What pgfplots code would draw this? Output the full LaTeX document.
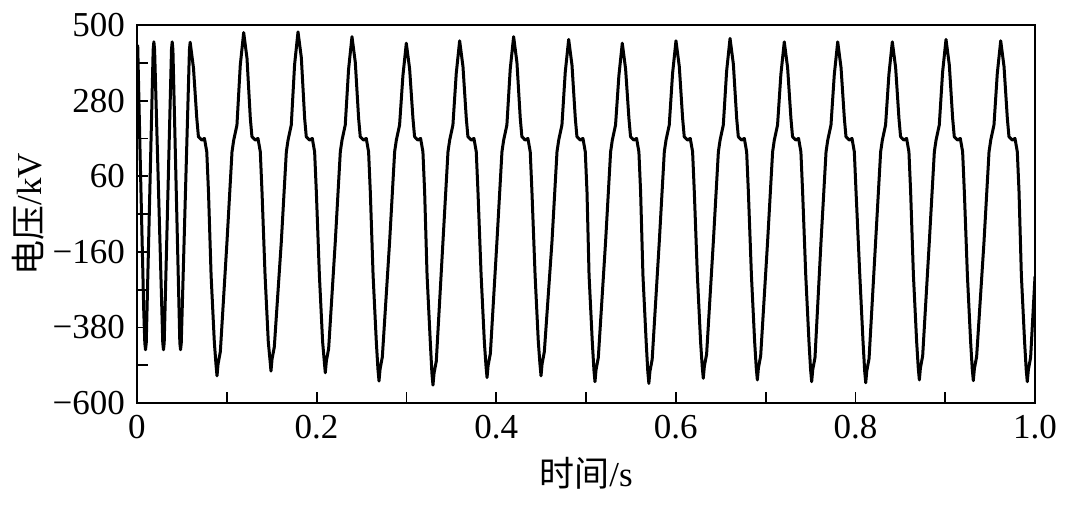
\documentclass[border=0pt]{standalone}
\usepackage{fontspec}
\setmainfont{Liberation Serif}
\newfontfamily\cjk{Noto Sans CJK SC}
\usepackage{pgfplots}
\pgfplotsset{compat=1.18}
\begin{document}
\fontsize{17.5}{21}\selectfont
\begin{tikzpicture}
\path[use as bounding box] (-68.5pt,-52.5pt) rectangle (471.5pt,201.5pt);
\begin{axis}[
 at={(0pt,0pt)}, anchor=south west,
 scale only axis, width=449pt, height=189pt,
 xmin=0, xmax=1, ymin=-600, ymax=500,
 xtick={0,0.2,0.4,0.6,0.8,1}, xticklabels={0,0.2,0.4,0.6,0.8,1.0},
 ytick={-600,-380,-160,60,280,500}, yticklabels={−600,−380,−160,60,280,500},
 minor xtick={0.1,0.3,0.5,0.7,0.9}, minor ytick={-490,-270,-50,170,390},
 tick align=inside, xtick pos=bottom, ytick pos=left,
 major tick length=5.5pt, minor tick length=5.5pt,
 every tick/.style={black, line width=0.9pt},
 axis line style={line width=1pt},
 tick label style={font=\fontsize{17.5}{21}\selectfont},
 label style={font=\fontsize{17.5}{21}\selectfont},
 xlabel={{\cjk 时间}/s}, ylabel={{\cjk 电压}/kV},
 xlabel style={at={(axis description cs:0.5,-0.1852)}, anchor=center},
 ylabel style={at={(axis description cs:-0.1214,0.5)}, anchor=center},
]
\addplot[black, line width=1.5pt, line join=round, mark=none] coordinates {
(0,300) (0.0008,440) (0.0035,120) (0.0075,-330) (0.0087,-425) (0.0095,-445) (0.0103,-425)
(0.0180,428) (0.0188,451) (0.0196,428) (0.0287,-425) (0.0295,-445) (0.0303,-425)
(0.0384,428) (0.0392,451) (0.0400,428) (0.0477,-425) (0.0485,-445) (0.0493,-425)
(0.0584,428) (0.0592,450)
(0.0629,375) (0.0666,228) (0.0684,175) (0.0721,165) (0.0751,170) (0.0777,131) (0.0796,15) (0.0825,-228) (0.0861,-422) (0.0879,-486) (0.0891,-521)
(0.0903,-486) (0.0928,-451) (0.1002,-131) (0.1058,131) (0.1077,165) (0.1113,209) (0.1150,383) (0.1188,478) (0.1225,403) (0.1262,228) (0.1280,175) (0.1317,165) (0.1347,170) (0.1373,131) (0.1392,15) (0.1426,-228) (0.1462,-422) (0.1480,-472) (0.1492,-507)
(0.1504,-472) (0.1529,-437) (0.1607,-131) (0.1663,131) (0.1682,165) (0.1718,209) (0.1755,385) (0.1793,480) (0.1830,405) (0.1867,228) (0.1885,175) (0.1922,165) (0.1952,170) (0.1978,131) (0.1997,15) (0.2031,-228) (0.2067,-422) (0.2085,-477) (0.2097,-512)
(0.2109,-477) (0.2134,-442) (0.2208,-131) (0.2264,131) (0.2283,165) (0.2319,209) (0.2356,371) (0.2394,466) (0.2431,391) (0.2468,228) (0.2486,175) (0.2523,165) (0.2553,170) (0.2579,131) (0.2598,15) (0.2629,-228) (0.2665,-422) (0.2683,-501) (0.2695,-536)
(0.2707,-501) (0.2732,-466) (0.2813,-131) (0.2869,131) (0.2888,165) (0.2924,209) (0.2961,352) (0.2999,447) (0.3036,372) (0.3073,228) (0.3091,175) (0.3128,165) (0.3158,170) (0.3184,131) (0.3203,15) (0.3230,-228) (0.3266,-422) (0.3284,-513) (0.3296,-548)
(0.3308,-513) (0.3333,-478) (0.3407,-131) (0.3463,131) (0.3482,165) (0.3518,209) (0.3555,359) (0.3593,454) (0.3630,379) (0.3667,228) (0.3685,175) (0.3722,165) (0.3752,170) (0.3778,131) (0.3797,15) (0.3832,-228) (0.3868,-422) (0.3886,-491) (0.3898,-526)
(0.3910,-491) (0.3935,-456) (0.4008,-131) (0.4064,131) (0.4083,165) (0.4119,209) (0.4156,371) (0.4194,466) (0.4231,391) (0.4268,228) (0.4286,175) (0.4323,165) (0.4353,170) (0.4379,131) (0.4398,15) (0.4433,-228) (0.4469,-422) (0.4487,-486) (0.4499,-521)
(0.4511,-486) (0.4536,-451) (0.4621,-131) (0.4677,131) (0.4696,165) (0.4732,209) (0.4769,363) (0.4807,458) (0.4844,383) (0.4881,228) (0.4899,175) (0.4936,165) (0.4966,170) (0.4992,131) (0.5011,15) (0.5034,-228) (0.5070,-422) (0.5088,-503) (0.5100,-538)
(0.5112,-503) (0.5137,-468) (0.5218,-131) (0.5274,131) (0.5293,165) (0.5329,209) (0.5366,352) (0.5404,447) (0.5441,372) (0.5478,228) (0.5496,175) (0.5533,165) (0.5563,170) (0.5589,131) (0.5608,15) (0.5634,-228) (0.5670,-422) (0.5688,-508) (0.5700,-543)
(0.5712,-508) (0.5737,-473) (0.5816,-131) (0.5872,131) (0.5891,165) (0.5927,209) (0.5964,359) (0.6002,454) (0.6039,379) (0.6076,228) (0.6094,175) (0.6131,165) (0.6161,170) (0.6187,131) (0.6206,15) (0.6240,-228) (0.6276,-422) (0.6294,-493) (0.6306,-528)
(0.6318,-493) (0.6343,-458) (0.6418,-131) (0.6474,131) (0.6493,165) (0.6529,209) (0.6566,366) (0.6604,461) (0.6641,386) (0.6678,228) (0.6696,175) (0.6733,165) (0.6763,170) (0.6789,131) (0.6808,15) (0.6842,-228) (0.6878,-422) (0.6896,-498) (0.6908,-533)
(0.6920,-498) (0.6945,-463) (0.7022,-131) (0.7078,131) (0.7097,165) (0.7133,209) (0.7170,356) (0.7208,451) (0.7245,376) (0.7282,228) (0.7300,175) (0.7337,165) (0.7367,170) (0.7393,131) (0.7412,15) (0.7447,-228) (0.7483,-422) (0.7501,-503) (0.7513,-538)
(0.7525,-503) (0.7550,-468) (0.7617,-131) (0.7673,131) (0.7692,165) (0.7728,209) (0.7765,356) (0.7803,451) (0.7840,376) (0.7877,228) (0.7895,175) (0.7932,165) (0.7962,170) (0.7988,131) (0.8007,15) (0.8049,-228) (0.8085,-422) (0.8103,-506) (0.8115,-541)
(0.8127,-506) (0.8152,-471) (0.8225,-131) (0.8281,131) (0.8300,165) (0.8336,209) (0.8373,356) (0.8411,451) (0.8448,376) (0.8485,228) (0.8503,175) (0.8540,165) (0.8570,170) (0.8596,131) (0.8615,15) (0.8646,-228) (0.8682,-422) (0.8700,-498) (0.8712,-533)
(0.8724,-498) (0.8749,-463) (0.8823,-131) (0.8879,131) (0.8898,165) (0.8934,209) (0.8971,363) (0.9009,458) (0.9046,383) (0.9083,228) (0.9101,175) (0.9138,165) (0.9168,170) (0.9194,131) (0.9213,15) (0.9247,-228) (0.9283,-422) (0.9301,-500) (0.9313,-535)
(0.9325,-500) (0.9350,-465) (0.9432,-131) (0.9488,131) (0.9507,165) (0.9543,209) (0.9580,359) (0.9618,454) (0.9655,379) (0.9692,228) (0.9710,175) (0.9747,165) (0.9777,170) (0.9803,131) (0.9822,15) (0.9848,-228) (0.9884,-422) (0.9902,-503) (0.9914,-538)
(0.9926,-503) (0.9951,-468) (1.0,-232)
};
\end{axis}
\end{tikzpicture}
\end{document}
